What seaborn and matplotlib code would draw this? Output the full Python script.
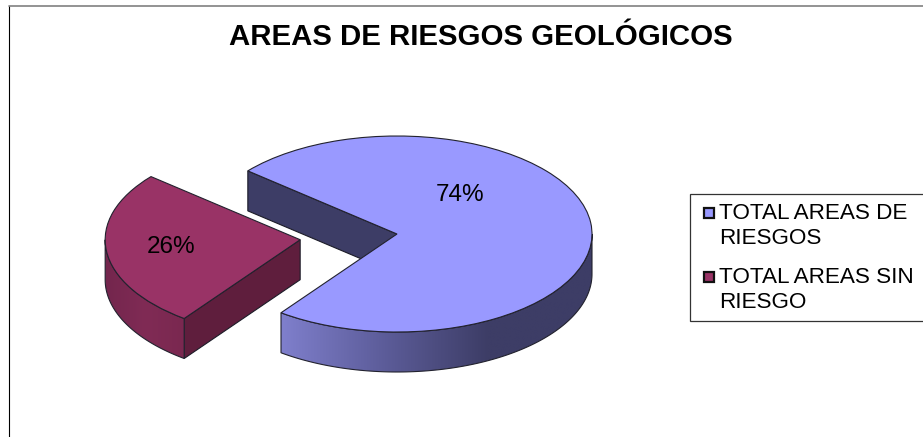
import numpy as np
import seaborn as sns
import matplotlib.pyplot as plt
from matplotlib.patches import Polygon, Rectangle

# data
labels = ["TOTAL AREAS DE\nRIESGOS", "TOTAL AREAS SIN\nRIESGO"]
values = [74, 26]
title = "AREAS DE RIESGOS GEOLÓGICOS"

colors = sns.color_palette(["#9999ff", "#993366"])
dark = ["#3d3d66", "#5f1e3d"]
side_stops = [["#7f7fcc", "#5c5c99", "#3d3d66", "#3d3d66"], ["#73264d", "#802b55", "#7a2850"]]

W, H = 923, 437
CX, CY, RX, RY, DEPTH = 397, 234, 195, 98, 40

sns.set_theme(style="white")
plt.rcParams["font.family"] = ["Liberation Sans", "DejaVu Sans"]

fig = plt.figure(figsize=(W / 100, H / 100), dpi=100)
ax = fig.add_axes([0, 0, 1, 1])
wedges, _ = ax.pie(
    values,
    colors=colors,
    explode=[0, 0.5],
    startangle=233.5,
    counterclock=True,
    wedgeprops={"edgecolor": "#22222e", "linewidth": 0.8, "zorder": 3},
)
ax.set_aspect("auto")
d = DEPTH / RY


def rim(w, t1, t2):
    t = np.radians(np.linspace(t1, t2, 120))
    return w.center[0] + np.cos(t), w.center[1] + np.sin(t)


# only the front half of each rim is seen
ranges = [(wedges[0].theta1, 360), (180, wedges[1].theta2 % 360)]
for i, w in enumerate(wedges):
    # cut face
    a = np.radians(w.theta2)
    cx, cy = w.center
    px, py = cx + np.cos(a), cy + np.sin(a)
    ax.add_patch(Polygon([(cx, cy), (px, py), (px, py - d), (cx, cy - d)],
                         facecolor=dark[i], edgecolor="#1c1c28", linewidth=0.8, zorder=2))
    # outer side with gradient
    x, y = rim(w, *ranges[i])
    pts = np.r_[np.c_[x, y], np.c_[x[::-1], y[::-1] - d]]
    poly = Polygon(pts, facecolor="none", edgecolor="#22222e", linewidth=0.8, zorder=2.5)
    ax.add_patch(poly)
    cmap = sns.blend_palette(side_stops[i], as_cmap=True)
    im = ax.imshow(np.linspace(0, 1, 256).reshape(1, -1), cmap=cmap, aspect="auto",
                   extent=[x.min(), x.max(), y.min() - d, y.max()], zorder=2)
    im.set_clip_path(poly)

ax.set_xlim(-CX / RX, (W - CX) / RX)
ax.set_ylim((CY - H) / RY, CY / RY)
ax.axis("off")

# overlay in pixels for frame, title, labels and legend
ov = fig.add_axes([0, 0, 1, 1], facecolor="none")
ov.set_xlim(0, W)
ov.set_ylim(H, 0)
ov.axis("off")

ov.plot([8.5, 8.5], [H, 5.5], color="black", lw=0.8)
ov.plot([8.5, W], [5.5, 5.5], color="#808080", lw=1.2)
ov.text(481, 37, title, fontsize=21.2, fontweight="bold", ha="center", va="center", color="black")

ov.text(460.5, 195, f"{values[0]}%", fontsize=17.5, ha="center", va="center", color="black")
ov.text(171.5, 247, f"{values[1]}%", fontsize=17.5, ha="center", va="center", color="black")

ov.add_patch(Rectangle((690, 193.5), 240, 127, facecolor="white", edgecolor="#333333", lw=0.9))
for lab, c, y in zip(labels, colors, [213, 277]):
    ov.add_patch(Rectangle((703.5, y - 5), 10.5, 10, facecolor=c, edgecolor="#111111", lw=1.6))
    ov.text(719, y - 10, lab, fontsize=16.2, ha="left", va="top", color="black", linespacing=1.25)

fig.savefig("out.png", dpi=100)
